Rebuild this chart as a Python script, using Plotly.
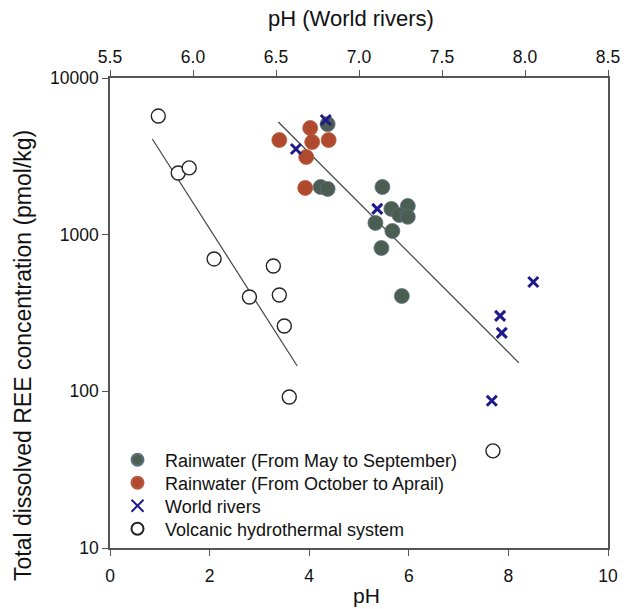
import plotly.graph_objects as go

# Rainwater (May to September) - pH, total REE (pmol/kg)
rain_ms_ph = [4.37, 4.23, 4.37, 5.47, 5.65, 5.98, 5.81, 5.98, 5.33, 5.67, 5.45, 5.86]
rain_ms_ree = [5080, 2015, 1960, 2015, 1460, 1525, 1337, 1300, 1189, 1056, 822, 406]

# Rainwater (October to April)
rain_oa_ph = [4.02, 3.40, 4.06, 4.39, 3.94, 3.92]
rain_oa_ree = [4795, 4017, 3905, 4017, 3133, 1988]

# World rivers (top pH axis)
river_ph = [6.80, 6.62, 7.11, 8.05, 7.85, 7.86, 7.80]
river_ree = [5395, 3524, 1460, 499, 303, 236, 87]

# Volcanic hydrothermal system
volc_ph = [0.97, 1.37, 1.59, 2.09, 2.80, 3.28, 3.40, 3.50, 3.60, 7.69]
volc_ree = [5715, 2477, 2667, 700, 400, 631, 412, 261, 92, 41.7]

# Regression lines (end points)
volc_fit_ph = [0.85, 3.76]
volc_fit_ree = [4083, 145]
rain_fit_ph = [3.38, 8.21]
rain_fit_ree = [5235, 152]

y_ticks = [10, 100, 1000, 10000]
y_ticktext = ["10", "100", "1000", "10000"]
x_ticks = [0, 2, 4, 6, 8, 10]
x2_ticks = [5.5, 6.0, 6.5, 7.0, 7.5, 8.0, 8.5]
x2_ticktext = ["5.5", "6.0", "6.5", "7.0", "7.5", "8.0", "8.5"]

FONT = "Liberation Sans, Arial, sans-serif"
AX = "#555555"
TICK = 17.5
TITLE = 22
LEG = 18

# plot area in pixels
L, R, T, B = 110, 608, 78, 548
W, H = R - L, B - T

def px(xp):
    return (xp - L) / W

def py(yp):
    return (B - yp) / H

fig = go.Figure()

fig.add_trace(go.Scatter(x=volc_fit_ph, y=volc_fit_ree, mode="lines",
                         line=dict(color="#444444", width=1.2),
                         showlegend=False, hoverinfo="skip"))
fig.add_trace(go.Scatter(x=rain_fit_ph, y=rain_fit_ree, mode="lines",
                         line=dict(color="#444444", width=1.2),
                         showlegend=False, hoverinfo="skip"))

fig.add_trace(go.Scatter(x=rain_oa_ph, y=rain_oa_ree, mode="markers",
                         name="Rainwater (From October to Aprail)", legend="legend2",
                         marker=dict(symbol="circle", size=15, color="#b04a2e",
                                     line=dict(color="#b85a40", width=0.8))))
fig.add_trace(go.Scatter(x=rain_ms_ph, y=rain_ms_ree, mode="markers",
                         name="Rainwater (From May to September)", legend="legend",
                         marker=dict(symbol="circle", size=15, color="#4c5e52",
                                     line=dict(color="#5d7280", width=0.8))))
fig.add_trace(go.Scatter(x=volc_ph, y=volc_ree, mode="markers",
                         name="Volcanic hydrothermal system", legend="legend4",
                         marker=dict(symbol="circle", size=14, color="white",
                                     line=dict(color="#222222", width=1.4))))
fig.add_trace(go.Scatter(x=river_ph, y=river_ree, mode="markers", xaxis="x2",
                         name="World rivers", legend="legend3",
                         marker=dict(symbol="x-thin", size=10, color="#1f1a8a",
                                     line=dict(color="#1f1a8a", width=3))))

def leg(yc):
    return dict(x=0.0, y=py(yc), xanchor="left", yanchor="middle",
                bgcolor="rgba(0,0,0,0)", font=dict(size=LEG, family=FONT),
                itemsizing="constant", itemwidth=45)

fig.update_layout(
    width=635, height=609,
    margin=dict(l=L, r=635 - R, t=T, b=609 - B, autoexpand=False),
    paper_bgcolor="white", plot_bgcolor="white",
    font=dict(family=FONT, size=TICK, color="#111111"),
    showlegend=True,
    legend=leg(460), legend2=leg(483), legend3=leg(506), legend4=leg(529),
    xaxis=dict(range=[0, 10], tickvals=x_ticks, ticks="outside", ticklen=6,
               tickcolor=AX, showline=True, linecolor=AX, linewidth=1.5,
               showgrid=False, zeroline=False, ticklabelstandoff=5, automargin=False,
               tickfont=dict(size=TICK, family=FONT)),
    xaxis2=dict(range=[5.5, 8.5], overlaying="x", side="top", tickvals=x2_ticks,
                ticktext=x2_ticktext, ticks="outside", ticklen=6, tickcolor=AX,
                showline=True, linecolor=AX, linewidth=1.5, showgrid=False,
                zeroline=False, automargin=False, tickfont=dict(size=TICK, family=FONT)),
    yaxis=dict(type="log", range=[1, 4], tickvals=y_ticks, ticktext=y_ticktext,
               ticks="outside", ticklen=6, tickcolor=AX, showline=True,
               linecolor=AX, linewidth=1.5, mirror=True, showgrid=False,
               zeroline=False, automargin=False, tickfont=dict(size=TICK, family=FONT)),
    annotations=[
        dict(text="pH (World rivers)", xref="paper", yref="paper",
             x=px(351), y=py(18), xanchor="center", yanchor="middle",
             showarrow=False, font=dict(size=TITLE, family=FONT, color="#111111")),
        dict(text="pH", xref="paper", yref="paper",
             x=px(366), y=py(595), xanchor="center", yanchor="middle",
             showarrow=False, font=dict(size=21, family=FONT, color="#111111")),
        dict(text="Total dissolved REE concentration (pmol/kg)", xref="paper", yref="paper",
             x=px(23), y=py(356), xanchor="center", yanchor="middle",
             textangle=-90, showarrow=False,
             font=dict(size=23, family=FONT, color="#111111")),
    ],
)

fig.write_html("out.html")
